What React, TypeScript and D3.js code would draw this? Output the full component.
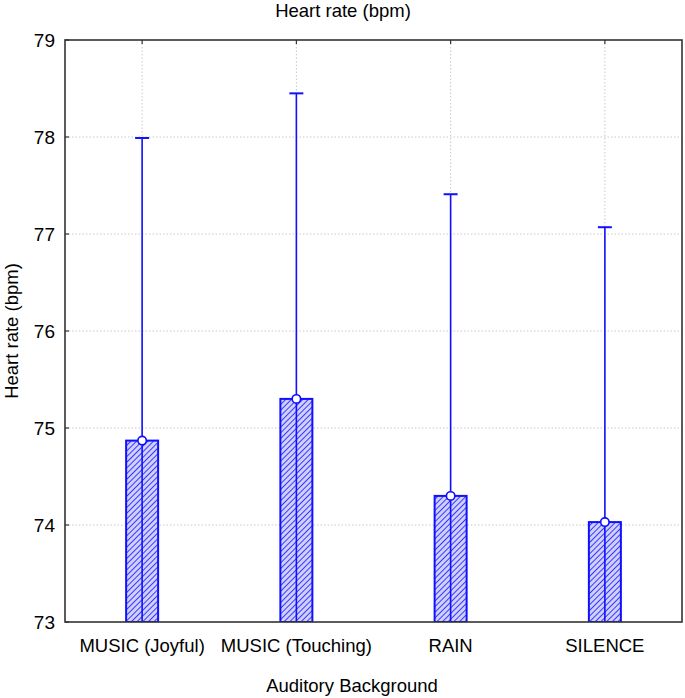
import React from "react";
import * as d3 from "d3";

const categories = ["MUSIC (Joyful)", "MUSIC (Touching)", "RAIN", "SILENCE"];
const means = [74.87, 75.3, 74.3, 74.03];
const upper = [77.99, 78.45, 77.41, 77.07];
const lower = [71.75, 72.15, 71.19, 70.99];
const yTicks = [73, 74, 75, 76, 77, 78, 79];

const W = 685;
const H = 698;
const M = { left: 65, right: 682, top: 40, bottom: 622 };

export default function App() {
  const x = d3.scalePoint<string>().domain(categories).range([M.left, M.right]).padding(0.5);
  const y = d3.scaleLinear().domain([73, 79]).range([M.bottom, M.top]);
  const barW = 32;
  const capW = 14;
  const blue = "#1010ff";
  const font = "'Liberation Sans', Arial, sans-serif";
  return (
    <svg width={W} height={H} style={{ position: "absolute", left: 0, top: 0, background: "#fff" }}>
      <defs>
        <pattern id="hatch" patternUnits="userSpaceOnUse" width={4} height={4} patternTransform="rotate(45)">
          <rect width={4} height={4} fill="#d0d0ff" />
          <line x1={0} y1={0} x2={0} y2={4} stroke={blue} strokeWidth={1.6} />
        </pattern>
        <clipPath id="plotclip">
          <rect x={M.left} y={M.top} width={M.right - M.left} height={M.bottom - M.top} />
        </clipPath>
      </defs>
      <text x={343} y={17} textAnchor="middle" fontFamily={font} fontSize={18.5}>Heart rate (bpm)</text>
      {/* grid */}
      {yTicks.slice(1, -1).map((t) => (
        <line key={"gy" + t} x1={M.left} x2={M.right} y1={y(t)} y2={y(t)} stroke="#c8c8c8" strokeDasharray="1.5,2" strokeWidth={1} />
      ))}
      {categories.map((c) => (
        <line key={"gx" + c} x1={x(c)!} x2={x(c)!} y1={M.top} y2={M.bottom} stroke="#c8c8c8" strokeDasharray="1.5,2" strokeWidth={1} />
      ))}
      <g clipPath="url(#plotclip)">
        {categories.map((c, i) => {
          const cx = x(c)!;
          return (
            <g key={c}>
              <rect x={cx - barW / 2} y={y(means[i])} width={barW} height={M.bottom - y(means[i])} fill="url(#hatch)" stroke={blue} strokeWidth={2} />
              <line x1={cx} x2={cx} y1={y(lower[i])} y2={y(upper[i])} stroke={blue} strokeWidth={1.6} />
              <line x1={cx - capW / 2} x2={cx + capW / 2} y1={y(upper[i])} y2={y(upper[i])} stroke={blue} strokeWidth={2} />
              <circle cx={cx} cy={y(means[i])} r={4.2} fill="#fff" stroke={blue} strokeWidth={1.6} />
            </g>
          );
        })}
      </g>
      {/* frame */}
      <rect x={M.left} y={M.top} width={M.right - M.left} height={M.bottom - M.top} fill="none" stroke="#333" strokeWidth={1.6} />
      {yTicks.map((t) => (
        <g key={"yt" + t}>
          <line x1={M.left} x2={M.left + 4} y1={y(t)} y2={y(t)} stroke="#333" strokeWidth={1.2} />
          <text x={M.left - 10} y={y(t) + 7} textAnchor="end" fontFamily={font} fontSize={19}>{t}</text>
        </g>
      ))}
      {categories.map((c) => (
        <g key={"xt" + c}>
          <line x1={x(c)!} x2={x(c)!} y1={M.top} y2={M.top + 4} stroke="#333" strokeWidth={1.2} />
          <text x={x(c)!} y={M.bottom + 30} textAnchor="middle" fontFamily={font} fontSize={18.5}>{c}</text>
        </g>
      ))}
      <text x={352} y={692} textAnchor="middle" fontFamily={font} fontSize={18.5}>Auditory Background</text>
      <text transform={`translate(18, ${331}) rotate(-90)`} textAnchor="middle" fontFamily={font} fontSize={18.5}>Heart rate (bpm)</text>
    </svg>
  );
}
